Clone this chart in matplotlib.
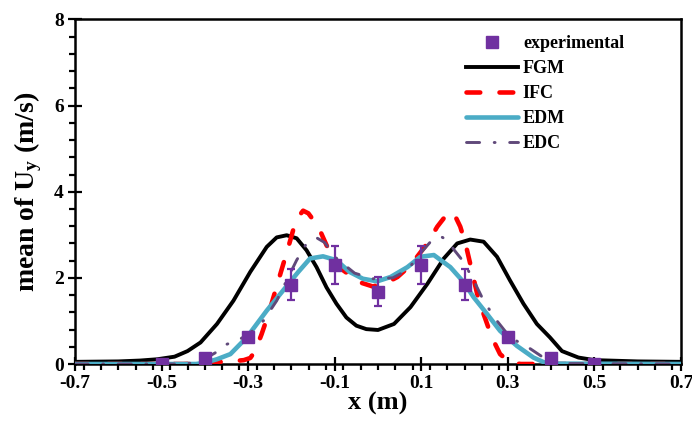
import matplotlib
matplotlib.use("Agg")
import matplotlib.pyplot as plt
from matplotlib.lines import Line2D
from matplotlib.ticker import MultipleLocator, FixedLocator

plt.rcParams['font.family'] = ['Liberation Serif', 'DejaVu Serif']
plt.rcParams['font.weight'] = 'bold'
plt.rcParams['mathtext.fontset'] = 'custom'
plt.rcParams['mathtext.rm'] = 'Liberation Serif:bold'
plt.rcParams['mathtext.it'] = 'Liberation Serif:bold'
plt.rcParams['mathtext.bf'] = 'Liberation Serif:bold'

# ---- data ----
exp_x = [-0.5, -0.4, -0.3, -0.2, -0.1, 0.0, 0.1, 0.2, 0.3, 0.4, 0.5]
exp_y = [0.0, 0.15, 0.63, 1.84, 2.30, 1.68, 2.30, 1.84, 0.63, 0.15, 0.0]
exp_err = [0.0, 0.0, 0.0, 0.36, 0.45, 0.33, 0.45, 0.36, 0.0, 0.0, 0.0]

fgm_x = [-0.70, -0.60, -0.55, -0.51, -0.47, -0.44, -0.41, -0.372, -0.334, -0.295,
         -0.257, -0.234, -0.211, -0.188, -0.165, -0.142, -0.119, -0.096, -0.073,
         -0.050, -0.027, 0.0, 0.037, 0.075, 0.114, 0.152, 0.183, 0.213, 0.244,
         0.275, 0.305, 0.336, 0.367, 0.397, 0.425, 0.463, 0.50, 0.60, 0.70]
fgm_y = [0.05, 0.06, 0.08, 0.11, 0.17, 0.30, 0.50, 0.93, 1.47, 2.14,
         2.72, 2.94, 2.99, 2.92, 2.64, 2.25, 1.78, 1.40, 1.08,
         0.89, 0.81, 0.79, 0.93, 1.32, 1.86, 2.45, 2.80, 2.89, 2.84,
         2.49, 1.94, 1.40, 0.93, 0.62, 0.30, 0.15, 0.09, 0.06, 0.05]

ifc_x = [-0.70, -0.45, -0.40, -0.36, -0.34, -0.31, -0.295, -0.284, -0.269,
         -0.253, -0.238, -0.223, -0.207, -0.196, -0.184, -0.173, -0.161, -0.138,
         -0.119, -0.100, -0.081, -0.043, -0.012, 0.022, 0.045, 0.075, 0.114,
         0.137, 0.164, 0.179, 0.190, 0.202, 0.213, 0.229, 0.244, 0.263, 0.282,
         0.305, 0.33, 0.40, 0.70]
ifc_y = [0.0, 0.0, 0.02, 0.05, 0.06, 0.09, 0.14, 0.30, 0.69,
         1.16, 1.67, 2.18, 2.72, 3.11, 3.42, 3.56, 3.50, 3.19,
         2.76, 2.41, 2.18, 1.90, 1.80, 1.90, 2.02, 2.29, 2.80,
         3.19, 3.54, 3.42, 3.19, 2.80, 2.33, 1.63, 1.16, 0.62, 0.23,
         0.03, 0.0, 0.0, 0.0]

edm_x = [-0.70, -0.42, -0.40, -0.372, -0.341, -0.303, -0.257, -0.219, -0.184,
         -0.157, -0.127, -0.096, -0.066, -0.035, -0.002, 0.029, 0.068, 0.098,
         0.129, 0.167, 0.198, 0.221, 0.252, 0.282, 0.321, 0.359, 0.39, 0.70]
edm_y = [0.0, 0.0, 0.03, 0.11, 0.23, 0.62, 1.24, 1.71, 2.14,
         2.45, 2.50, 2.41, 2.14, 1.98, 1.92, 2.02, 2.25, 2.49,
         2.53, 2.25, 1.90, 1.55, 1.16, 0.77, 0.42, 0.15, 0.01, 0.0]

edc_x = [-0.70, -0.45, -0.426, -0.40, -0.376, -0.349, -0.326, -0.299, -0.265,
         -0.234, -0.211, -0.188, -0.165, -0.152, -0.140, -0.123, -0.100, -0.081,
         -0.054, -0.012, 0.034, 0.068, 0.098, 0.125, 0.145, 0.160, 0.175,
         0.198, 0.225, 0.244, 0.271, 0.305, 0.348, 0.382, 0.432, 0.70]
edc_y = [0.0, 0.0, 0.03, 0.12, 0.26, 0.46, 0.54, 0.69, 1.0,
         1.47, 1.94, 2.41, 2.80, 2.90, 2.92, 2.82, 2.49, 2.33,
         2.11, 1.98, 2.00, 2.18, 2.57, 2.88, 2.96, 2.88, 2.66,
         2.37, 1.86, 1.47, 1.05, 0.62, 0.38, 0.15, 0.01, 0.0]

x_ticks = [-0.7, -0.5, -0.3, -0.1, 0.1, 0.3, 0.5, 0.7]
x_ticklabels = ['-0.7', '-0.5', '-0.3', '-0.1', '0.1', '0.3', '0.5', '0.7']
y_ticks = [0, 2, 4, 6, 8]

# ---- colours ----
c_exp = '#7030A0'
c_fgm = '#000000'
c_ifc = '#FF0000'
c_edm = '#4BACC6'
c_edc = '#60497A'

ifc_ls = (0, (3.0, 4.2))
edc_ls = (0, (4.5, 5.0, 0.3, 5.0))

fig = plt.figure(figsize=(6.92, 4.23), dpi=100)
ax = fig.add_axes([75/692, 1-364/423, (681-75)/692, (364-19.5)/423])

ax.plot(fgm_x, fgm_y, color=c_fgm, lw=2.8, solid_capstyle='round',
        solid_joinstyle='round', zorder=2)
ax.plot(ifc_x, ifc_y, color=c_ifc, lw=3.3, linestyle=ifc_ls,
        dash_capstyle='round', dash_joinstyle='round', zorder=3)
ax.plot(edm_x, edm_y, color=c_edm, lw=3.3, solid_capstyle='round',
        solid_joinstyle='round', zorder=4)
ax.plot(edc_x, edc_y, color=c_edc, lw=2.1, linestyle=edc_ls,
        dash_capstyle='round', dash_joinstyle='round', zorder=5)
ax.errorbar(exp_x, exp_y, yerr=exp_err, fmt='s', color=c_exp, ms=8,
            ecolor=c_exp, elinewidth=1.6, capsize=3.2, capthick=1.6, zorder=6)

ax.set_xlim(-0.7, 0.7)
ax.set_ylim(0, 8)
ax.xaxis.set_major_locator(FixedLocator(x_ticks))
ax.set_xticklabels(x_ticklabels)
ax.xaxis.set_minor_locator(MultipleLocator(0.04))
ax.yaxis.set_major_locator(FixedLocator(y_ticks))
ax.yaxis.set_minor_locator(MultipleLocator(0.4))

for s in ax.spines.values():
    s.set_linewidth(1.8)
ax.tick_params(axis='both', which='major', direction='inout', length=10, width=1.6,
               labelsize=14, pad=3)
ax.tick_params(axis='both', which='minor', direction='out', length=4, width=1.6)
for lab in ax.get_xticklabels() + ax.get_yticklabels():
    lab.set_fontweight('bold')

ax.set_xlabel('x (m)', fontsize=19, fontweight='bold', labelpad=0)
ax.set_ylabel(r'mean of U$_\mathregular{y}$ (m/s)', fontsize=20, fontweight='bold', labelpad=7)

handles = [
    Line2D([], [], marker='s', color=c_exp, linestyle='none', markersize=8),
    Line2D([], [], color=c_fgm, lw=2.8),
    Line2D([], [], color=c_ifc, lw=3.3, linestyle=ifc_ls, dash_capstyle='round'),
    Line2D([], [], color=c_edm, lw=3.3, solid_capstyle='round'),
    Line2D([], [], color=c_edc, lw=2.1, linestyle=edc_ls, dash_capstyle='round'),
]
labels = ['experimental', 'FGM', 'IFC', 'EDM', 'EDC']
leg = ax.legend(handles, labels, loc='upper left', bbox_to_anchor=(466/692, 1-35/423),
                bbox_transform=fig.transFigure, frameon=False, fontsize=13,
                handlelength=2.9, handletextpad=0.25, labelspacing=0.45,
                borderpad=0, borderaxespad=0)
for t in leg.get_texts():
    t.set_fontweight('bold')

fig.savefig('out.png', dpi=100)
